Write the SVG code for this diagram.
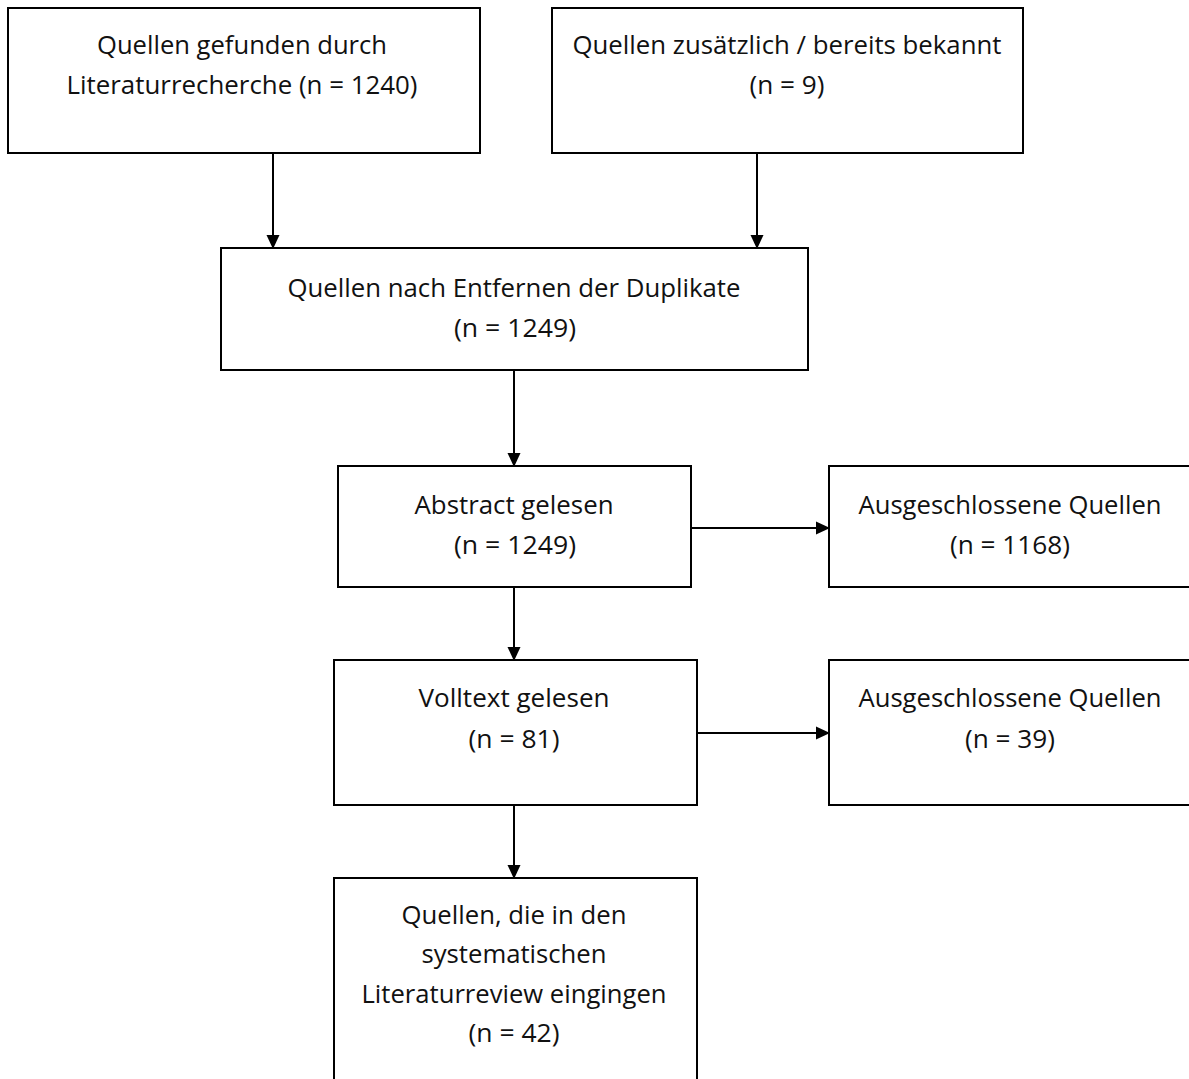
<svg xmlns="http://www.w3.org/2000/svg" width="1189" height="1079" viewBox="0 0 1189 1079">
<style>
.box{fill:#fff;stroke:#000;stroke-width:2}
.t{font-family:"Open Sans","Noto Sans","Liberation Sans",sans-serif;font-size:25px;fill:#111;text-anchor:middle}
.c{stroke:#000;stroke-width:2;fill:none;marker-end:url(#ah)}
</style>
<defs>
<marker id="ah" markerWidth="14" markerHeight="14" refX="13" refY="7" orient="auto" markerUnits="userSpaceOnUse">
<path d="M0,0.5 L14,7 L0,13.5 Z" fill="#000"/>
</marker>
</defs>
<rect width="1189" height="1079" fill="#fff"/>
<g id="connectors">
<line class="c" x1="273" y1="153" x2="273" y2="248"/>
<line class="c" x1="757" y1="153" x2="757" y2="248"/>
<line class="c" x1="514" y1="370" x2="514" y2="466"/>
<line class="c" x1="691" y1="528" x2="829" y2="528"/>
<line class="c" x1="514" y1="587" x2="514" y2="660"/>
<line class="c" x1="697" y1="733" x2="829" y2="733"/>
<line class="c" x1="514" y1="805" x2="514" y2="878"/>
</g>
<g id="n1">
<rect class="box" x="8" y="8" width="472" height="145"/>
<text class="t" x="242" y="54" textLength="290" lengthAdjust="spacingAndGlyphs">Quellen gefunden durch</text>
<text class="t" x="242" y="94" textLength="351" lengthAdjust="spacingAndGlyphs">Literaturrecherche (n = 1240)</text>
</g>
<g id="n2">
<rect class="box" x="552" y="8" width="471" height="145"/>
<text class="t" x="787" y="54" textLength="429" lengthAdjust="spacingAndGlyphs">Quellen zusätzlich / bereits bekannt</text>
<text class="t" x="787" y="94" textLength="75" lengthAdjust="spacingAndGlyphs">(n = 9)</text>
</g>
<g id="n3">
<rect class="box" x="221" y="248" width="587" height="122"/>
<text class="t" x="514" y="297" textLength="453" lengthAdjust="spacingAndGlyphs">Quellen nach Entfernen der Duplikate</text>
<text class="t" x="515" y="337" textLength="122" lengthAdjust="spacingAndGlyphs">(n = 1249)</text>
</g>
<g id="n4">
<rect class="box" x="338" y="466" width="353" height="121"/>
<text class="t" x="514" y="514" textLength="199" lengthAdjust="spacingAndGlyphs">Abstract gelesen</text>
<text class="t" x="515" y="554" textLength="122" lengthAdjust="spacingAndGlyphs">(n = 1249)</text>
</g>
<g id="n5">
<rect class="box" x="829" y="466" width="362" height="121"/>
<text class="t" x="1010" y="514" textLength="303" lengthAdjust="spacingAndGlyphs">Ausgeschlossene Quellen</text>
<text class="t" x="1010" y="554" textLength="120" lengthAdjust="spacingAndGlyphs">(n = 1168)</text>
</g>
<g id="n6">
<rect class="box" x="334" y="660" width="363" height="145"/>
<text class="t" x="514" y="707" textLength="191" lengthAdjust="spacingAndGlyphs">Volltext gelesen</text>
<text class="t" x="514" y="748" textLength="91" lengthAdjust="spacingAndGlyphs">(n = 81)</text>
</g>
<g id="n7">
<rect class="box" x="829" y="660" width="362" height="145"/>
<text class="t" x="1010" y="707" textLength="303" lengthAdjust="spacingAndGlyphs">Ausgeschlossene Quellen</text>
<text class="t" x="1010" y="748" textLength="90" lengthAdjust="spacingAndGlyphs">(n = 39)</text>
</g>
<g id="n8">
<rect class="box" x="334" y="878" width="363" height="210"/>
<text class="t" x="514" y="924" textLength="225" lengthAdjust="spacingAndGlyphs">Quellen, die in den</text>
<text class="t" x="514" y="963" textLength="185" lengthAdjust="spacingAndGlyphs">systematischen</text>
<text class="t" x="514" y="1003" textLength="305" lengthAdjust="spacingAndGlyphs">Literaturreview eingingen</text>
<text class="t" x="514" y="1042" textLength="91" lengthAdjust="spacingAndGlyphs">(n = 42)</text>
</g>
</svg>
